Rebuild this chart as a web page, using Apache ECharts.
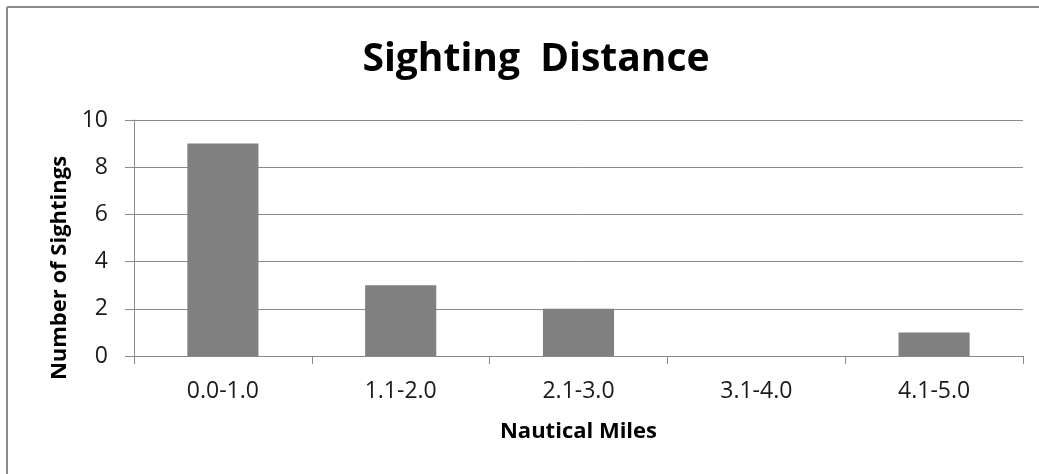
<!DOCTYPE html>
<html>
<head>
<meta charset="utf-8">
<script src="https://cdn.jsdelivr.net/npm/echarts@6/dist/echarts.min.js"></script>
<style>
  html, body { margin: 0; padding: 0; background: #fff; }
  #chart { width: 1039px; height: 474px; }
</style>
</head>
<body>
<div id="chart"></div>
<script>
// Distance bands (nautical miles) and how many sightings fell in each
const categories = ['0.0-1.0', '1.1-2.0', '2.1-3.0', '3.1-4.0', '4.1-5.0'];
const sightings = [9, 3, 2, 0, 1];
const yTicks = { min: 0, max: 10, interval: 2 };

const FONT = '"Open Sans", "Noto Sans", sans-serif';
const AXIS_GREY = '#8a8a8a';

const chart = echarts.init(document.getElementById('chart'), null, { renderer: 'canvas' });

chart.setOption({
  backgroundColor: '#ffffff',
  animation: false,
  title: {
    text: 'Sighting  Distance',
    left: 531,
    top: 35,
    textAlign: 'center',
    textStyle: { fontFamily: FONT, fontSize: 39, fontWeight: 'bold', color: '#000' }
  },
  graphic: [
    // frame around the chart area (top and left edges)
    { type: 'line', shape: { x1: 7, y1: 7, x2: 1039, y2: 7 }, style: { stroke: '#8c8c8c', lineWidth: 2 } },
    { type: 'line', shape: { x1: 7, y1: 7, x2: 7, y2: 474 }, style: { stroke: '#8c8c8c', lineWidth: 2 } }
  ],
  grid: { left: 134, right: 16, top: 120, bottom: 118 },
  xAxis: {
    type: 'category',
    data: categories,
    name: 'Nautical Miles',
    nameLocation: 'middle',
    nameGap: 65,
    nameTextStyle: { fontFamily: FONT, fontSize: 22, fontWeight: 'bold', color: '#000' },
    axisLine: { lineStyle: { color: AXIS_GREY, width: 1 } },
    axisTick: { show: true, length: 8, alignWithLabel: false, lineStyle: { color: AXIS_GREY } },
    axisLabel: { fontFamily: FONT, fontSize: 23, color: '#1a1a1a', margin: 24 },
    splitLine: { show: false }
  },
  yAxis: {
    type: 'value',
    min: yTicks.min,
    max: yTicks.max,
    interval: yTicks.interval,
    name: 'Number of Sightings',
    nameLocation: 'middle',
    nameGap: 60,
    nameRotate: 90,
    nameTextStyle: { fontFamily: FONT, fontSize: 22, fontWeight: 'bold', color: '#000', padding: [0, 60, 0, 0] },
    axisLine: { show: true, lineStyle: { color: AXIS_GREY, width: 1 } },
    axisTick: { show: true, inside: false, length: 9, lineStyle: { color: AXIS_GREY } },
    axisLabel: { fontFamily: FONT, fontSize: 23, color: '#1a1a1a', margin: 26 },
    splitLine: { show: true, lineStyle: { color: AXIS_GREY, width: 1 } }
  },
  series: [{
    type: 'bar',
    data: sightings,
    barWidth: '40%',
    itemStyle: { color: '#808080' }
  }]
});
</script>
</body>
</html>
